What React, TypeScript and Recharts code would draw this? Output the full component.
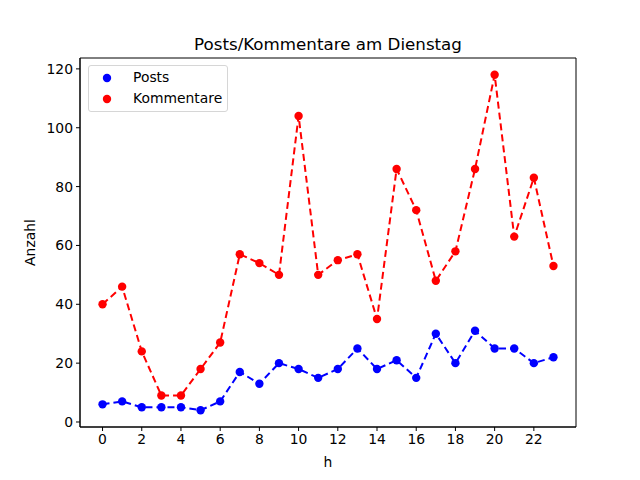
import { Line, LineChart, ReferenceArea, XAxis, YAxis } from 'recharts';

const hours = [0, 1, 2, 3, 4, 5, 6, 7, 8, 9, 10, 11, 12, 13, 14, 15, 16, 17, 18, 19, 20, 21, 22, 23];
const posts = [6, 7, 5, 5, 5, 4, 7, 17, 13, 20, 18, 15, 18, 25, 18, 21, 15, 30, 20, 31, 25, 25, 20, 22];
const comments = [40, 46, 24, 9, 9, 18, 27, 57, 54, 50, 104, 50, 55, 57, 35, 86, 72, 48, 58, 86, 118, 63, 83, 53];
const xTicks = [0, 2, 4, 6, 8, 10, 12, 14, 16, 18, 20, 22];
const yTicks = [0, 20, 40, 60, 80, 100, 120];
const xDomain = [-1.15, 24.15];
const yDomain = [-1.7, 123.7];

const rows = hours.map((h, i) => ({ h, posts: posts[i], comments: comments[i] }));

const FONT = 'DejaVu Sans, sans-serif';
const tickStyle = { fontSize: 13.9, fill: '#000', fontFamily: FONT };

function LegendBox() {
  const items = [
    { label: 'Posts', color: '#0000ff' },
    { label: 'Kommentare', color: '#ff0000' },
  ];
  return (
    <div
      style={{
        position: 'absolute',
        left: 88,
        top: 65,
        border: '1px solid #d6d6d6',
        borderRadius: 3,
        background: 'rgba(255,255,255,0.8)',
        padding: '1px 5px 2px 10px',
        fontFamily: FONT,
        fontSize: 13.9,
        lineHeight: '21px',
      }}
    >
      {items.map((it) => (
        <div key={it.label} style={{ display: 'flex', alignItems: 'center' }}>
          <svg width={16} height={10} style={{ marginRight: 18 }}>
            <circle cx={8} cy={5} r={4.2} fill={it.color} />
          </svg>
          <span>{it.label}</span>
        </div>
      ))}
    </div>
  );
}

export default function App() {
  return (
    <div style={{ position: 'fixed', left: 0, top: 0, width: 640, height: 480, background: '#fff' }}>
      <div
        style={{
          position: 'absolute',
          left: 80,
          width: 496,
          top: 34,
          textAlign: 'center',
          fontFamily: FONT,
          fontSize: 16.7,
        }}
      >
        Posts/Kommentare am Dienstag
      </div>
      <LineChart
        width={640}
        height={480}
        data={rows}
        margin={{ top: 58, right: 64, left: 30, bottom: 13 }}
      >
        <XAxis
          dataKey="h"
          type="number"
          domain={xDomain}
          ticks={xTicks}
          interval={0}
          tick={tickStyle}
          tickSize={4}
          tickMargin={3}
          height={40}
          stroke="#000"
          allowDataOverflow
          label={{ value: 'h', position: 'insideBottom', offset: 0, fill: '#000', fontSize: 13.9, fontFamily: FONT }}
        />
        <YAxis
          type="number"
          domain={yDomain}
          ticks={yTicks}
          interval={0}
          tick={tickStyle}
          tickSize={4}
          tickMargin={3}
          width={50}
          stroke="#000"
          allowDataOverflow
          label={{ value: 'Anzahl', angle: -90, position: 'insideLeft', offset: 0, fill: '#000', fontSize: 13.9, fontFamily: FONT, style: { textAnchor: 'middle' } }}
        />
        <ReferenceArea
          x1={xDomain[0]}
          x2={xDomain[1]}
          y1={yDomain[0]}
          y2={yDomain[1]}
          fill="none"
          fillOpacity={0}
          stroke="#000"
          strokeWidth={1}
          ifOverflow="visible"
        />
        <Line
          dataKey="posts"
          type="linear"
          stroke="#0000ff"
          strokeWidth={2}
          strokeDasharray="7 4"
          dot={{ r: 4.2, fill: '#0000ff', stroke: 'none' }}
          activeDot={false}
          isAnimationActive={false}
        />
        <Line
          dataKey="comments"
          type="linear"
          stroke="#ff0000"
          strokeWidth={2}
          strokeDasharray="7 4"
          dot={{ r: 4.2, fill: '#ff0000', stroke: 'none' }}
          activeDot={false}
          isAnimationActive={false}
        />
      </LineChart>
      <LegendBox />
    </div>
  );
}
